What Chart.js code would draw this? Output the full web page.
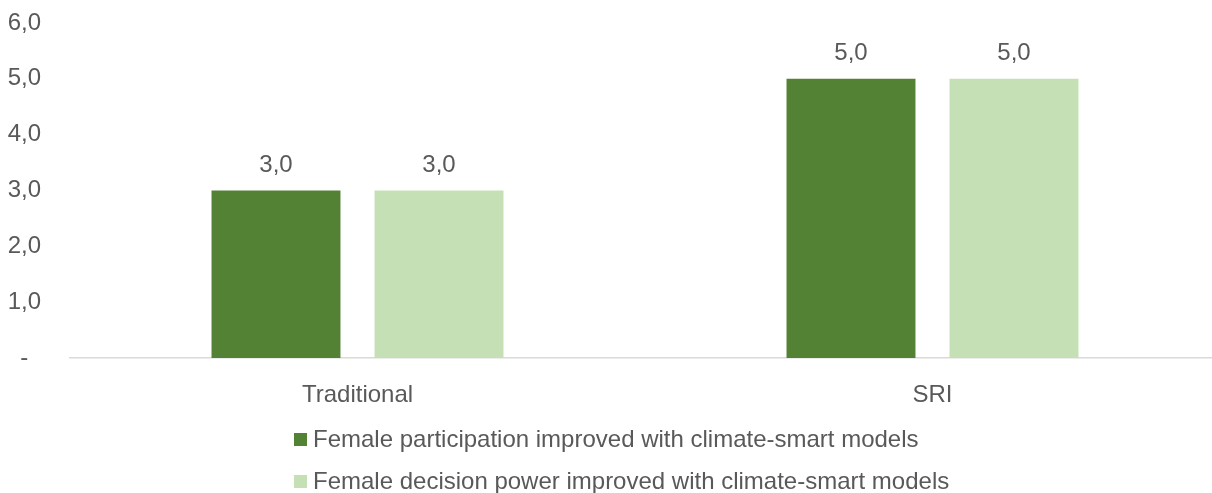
<!DOCTYPE html>
<html>
<head>
<meta charset="utf-8">
<script src="https://cdn.jsdelivr.net/npm/chart.js@4"></script>
<style>
  html, body { margin: 0; padding: 0; background: #fff; overflow: hidden; }
  #wrap { width: 1220px; height: 493px; }
</style>
</head>
<body>
<div id="wrap"><canvas id="chart"></canvas></div>
<script>
let categories = ["Traditional", "SRI"];
let participation = [3.0, 5.0];
let decisionPower = [3.0, 5.0];
let seriesNames = [
    "Female participation improved with climate-smart models",
    "Female decision power improved with climate-smart models"
];
let yTicks = [0, 1, 2, 3, 4, 5, 6];

const textColor = "#595959";
const fontFamily = "'Liberation Sans', Arial, sans-serif";
const font = { family: fontFamily, size: 24 };
const fmt = v => v.toFixed(1).replace(".", ",");

/* -------- value labels over bars -------- */
const valueLabels = {
    id: "valueLabels",
    afterDatasetsDraw(chart) {
        const ctx = chart.ctx;
        ctx.save();
        ctx.font = "24px " + fontFamily;
        ctx.fillStyle = textColor;
        ctx.textAlign = "center";
        ctx.textBaseline = "middle";
        chart.data.datasets.forEach((ds, i) => {
            chart.getDatasetMeta(i).data.forEach((bar, j) => {
                ctx.fillText(fmt(ds.data[j]), bar.x, bar.y - 25);
            });
        });
        ctx.restore();
    }
};

/* -------- stacked legend at the bottom -------- */
const stackedLegend = {
    id: "stackedLegend",
    afterDraw(chart) {
        const ctx = chart.ctx;
        const top = chart.chartArea.bottom;
        ctx.save();
        ctx.font = "24px " + fontFamily;
        ctx.textBaseline = "middle";
        ctx.textAlign = "left";
        chart.data.datasets.forEach((ds, i) => {
            const y = top + 82 + i * 42;
            ctx.fillStyle = ds.backgroundColor;
            ctx.fillRect(294, y - 7, 13, 13);
            ctx.fillStyle = textColor;
            ctx.fillText(ds.label, 313, y);
        });
        ctx.restore();
    }
};

new Chart(document.getElementById("chart"), {
    type: "bar",
    data: {
        labels: categories,
        datasets: [{
            label: seriesNames[0],
            data: participation,
            backgroundColor: "#548235"
        }, {
            label: seriesNames[1],
            data: decisionPower,
            backgroundColor: "#C5E0B4"
        }]
    },
    options: {
        responsive: true,
        maintainAspectRatio: false,
        animation: false,
        datasets: {
            bar: { categoryPercentage: 0.567, barPercentage: 0.791 }
        },
        layout: { padding: { top: 23, right: 0, bottom: 0, left: 0 } },
        plugins: {
            legend: { display: false },
            tooltip: { enabled: false }
        },
        scales: {
            x: {
                grid: { display: false },
                border: { display: true, color: "#D9D9D9", width: 1.5 },
                ticks: { color: textColor, font: font, padding: 15 },
                afterFit(scale) { scale.height = 135; }
            },
            y: {
                min: 0,
                max: 6,
                grid: { display: false },
                border: { display: false },
                afterBuildTicks(scale) { scale.ticks = yTicks.map(v => ({ value: v })); },
                ticks: {
                    color: textColor,
                    font: font,
                    crossAlign: "center",
                    padding: 21,
                    callback: v => v === 0 ? "-" : fmt(v)
                },
                afterFit(scale) {
                    scale.width = 70;
                    scale.paddingTop = 0;
                    scale.paddingBottom = 0;
                }
            }
        }
    },
    plugins: [valueLabels, stackedLegend]
});
</script>
</body>
</html>
